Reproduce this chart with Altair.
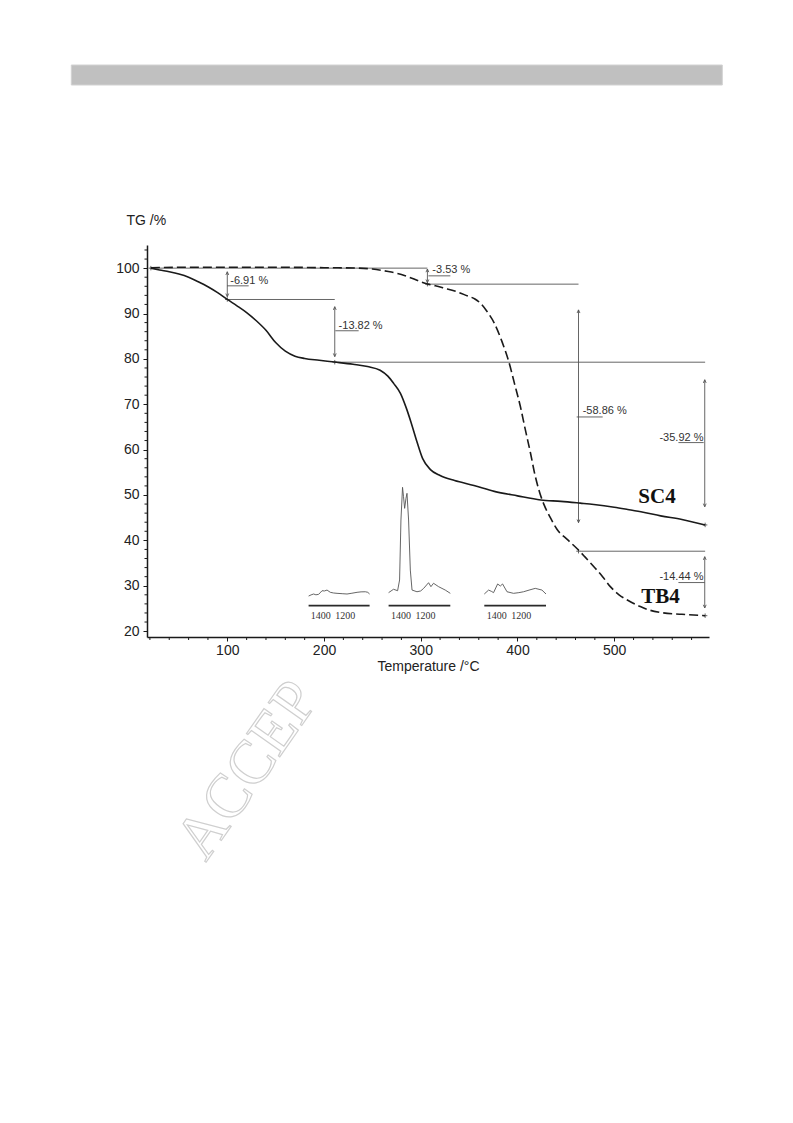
import altair as alt
import pandas as pd

# ---------------- data ----------------
SC4_T = [21, 30, 40, 50, 60, 70, 80, 90, 100, 110, 120, 130, 140, 150, 160, 170, 180, 195,
         211, 230, 245, 258, 266, 272, 279, 285, 290, 296, 302, 310, 320, 335, 355, 376, 400,
         424, 445, 465, 479, 500, 514, 530, 548, 570, 594]
SC4_TG = [100, 99.6, 99.2, 98.7, 98.0, 97.0, 95.9, 94.6, 93.1, 91.7, 90.2, 88.4, 86.3, 83.6,
          81.7, 80.6, 80.1, 79.7, 79.3, 78.8, 78.3, 77.5, 76.2, 74.6, 72.4, 69.2, 66.0, 61.8,
          58.0, 55.6, 54.3, 53.2, 52.1, 50.8, 49.8, 48.9, 48.6, 48.2, 47.9, 47.3, 46.8, 46.2,
          45.4, 44.6, 43.4]

TB4_T = [21, 60, 100, 150, 200, 235, 250, 265, 280, 293, 300, 306.9, 315, 324, 336, 348, 356,
         362, 368, 376, 384, 391, 397, 403, 408, 413.5, 418, 423, 428, 434, 441, 452, 462, 470,
         479, 488, 496, 505, 514, 527, 537, 548, 570, 594]
TB4_TG = [100.1, 100.2, 100.2, 100.2, 100.1, 100.0, 99.8, 99.3, 98.6, 97.6, 97.0, 96.5, 96.1,
          95.6, 94.9, 93.9, 93.2, 92.2, 90.6, 87.9, 83.8, 79.4, 74.5, 69.5, 64.5, 59.2, 54.5,
          50.5, 47.6, 45.0, 42.4, 40.1, 38.1, 36.3, 34.2, 32.0, 29.8, 28.0, 26.8, 25.4, 24.6,
          24.1, 23.7, 23.4]

X_TICKS = [100, 200, 300, 400, 500]
Y_TICKS = [20, 30, 40, 50, 60, 70, 80, 90, 100]
X_MINOR = [t for t in range(20, 600, 20) if t % 100 != 0]
Y_MINOR = [v for v in range(20, 106, 2) if v % 10 != 0]

# step reference lines (start T, end T, level)
H_T1 = [21, 100, 211.1, 306.9, 465]
H_T2 = [306.9, 211.1, 594, 463.1, 594]
H_TG = [100, 93.09, 79.27, 96.47, 37.61]

# double arrows (T, top, bottom)
A_T = [100, 211.1, 306.9, 463.1, 593.6, 593.6]
A_TOP = [99.2, 91.5, 99.8, 90.8, 75.4, 36.4]
A_BOT = [93.7, 80.5, 96.8, 43.9, 47.4, 25.1]

# step labels
L_TEXT = ["-6.91 %", "-13.82 %", "-3.53 %", "-58.86 %", "-35.92 %", "-14.44 %"]
L_T = [103.1, 215.1, 312.0, 467.4, 592.3, 592.3]
L_TG = [96.6, 86.5, 98.9, 67.9, 61.9, 31.3]
L_ALIGN = ["left", "left", "left", "left", "right", "right"]
U_T1 = [99.8, 211.7, 307.9, 461.2, 566.4, 566.4]
U_T2 = [122.1, 235.8, 330.6, 488.1, 592.5, 593.6]
U_TG = [96.1, 86.2, 98.3, 67.2, 61.55, 30.7]

# cross markers
P_T = [21, 100, 211.1, 306.9, 463.1, 594, 594]
P_TG = [100, 93.09, 79.27, 96.47, 37.61, 43.4, 23.4]

NAMES = ["SC4", "TB4"]
N_T = [544.2, 547.8]
N_TG = [48.3, 26.25]

# inset IR spectra (wavenumber /cm-1, relative absorbance)
SPEC_DOMAIN = [1500, 1000]
SPEC_TICKS = [1400, 1200]
S1_WN = [1500, 1480, 1459, 1440, 1418, 1400, 1390, 1370, 1349, 1322, 1295, 1267, 1225, 1185,
         1145, 1103, 1070, 1035, 1015, 1000]
S1_A = [0.035, 0.045, 0.053, 0.046, 0.050, 0.070, 0.082, 0.080, 0.088, 0.068, 0.062, 0.059,
        0.056, 0.053, 0.060, 0.068, 0.072, 0.073, 0.068, 0.053]
S2_WN = [1500, 1480, 1460, 1427, 1411, 1400, 1387, 1379, 1370, 1359, 1351, 1338, 1324, 1310,
         1270, 1240, 1216, 1176, 1157, 1136, 1095, 1041, 1000]
S2_A = [0.065, 0.080, 0.095, 0.082, 0.177, 0.708, 0.997, 0.914, 0.811, 0.900, 0.944, 0.708,
        0.265, 0.088, 0.073, 0.080, 0.103, 0.153, 0.118, 0.148, 0.118, 0.088, 0.059]
S3_WN = [1500, 1465, 1440, 1425, 1392, 1370, 1352, 1316, 1263, 1220, 1182, 1130, 1087, 1033,
         1000]
S3_A = [0.053, 0.088, 0.075, 0.065, 0.142, 0.124, 0.142, 0.073, 0.059, 0.065, 0.073, 0.090,
        0.103, 0.088, 0.053]

# ---------------- chart ----------------
W, H = 562, 392
INK = "#1a1a1a"
ANN = "#555555"
xs = alt.Scale(domain=[17, 598], nice=False, zero=False)
ys = alt.Scale(domain=[18.7, 105.1], nice=False, zero=False)

UP = "M-0.45,1L0,0L0.45,1"
DOWN = "M-0.45,-1L0,0L0.45,-1"
CROSS = "M-1,0L1,0M0,-1L0,1"

one = pd.DataFrame({"k": [0]})

bar = alt.Chart(one).mark_rect(color="#c0c0c0", stroke="#d2d2d2", strokeWidth=1).encode(
    x=alt.value(-75.7), x2=alt.value(575.3), y=alt.value(-180), y2=alt.value(-160))

watermark = alt.Chart(one).mark_text(
    text="ACCEP", font="Liberation Serif", fontSize=62, angle=305, fill="#ffffff",
    stroke="#cfcfcf", strokeWidth=1.2, align="center", baseline="middle").encode(
    x=alt.value(100.5), y=alt.value(525))

sc4 = alt.Chart(pd.DataFrame({"T": SC4_T, "TG": SC4_TG})).mark_line(
    color=INK, strokeWidth=1.6, interpolate="monotone").encode(
    x=alt.X("T:Q", scale=xs, axis=alt.Axis(values=X_TICKS, title="Temperature /°C",
                                            labelPadding=2, titlePadding=2)),
    y=alt.Y("TG:Q", scale=ys, axis=alt.Axis(values=Y_TICKS, title="TG /%", titleAngle=0,
                                             titleAlign="left", titleBaseline="middle",
                                             titleX=-21, titleY=-25, labelPadding=4)))

tb4 = alt.Chart(pd.DataFrame({"T": TB4_T, "TG": TB4_TG})).mark_line(
    color=INK, strokeWidth=1.6, strokeDash=[9, 4], interpolate="monotone").encode(
    x="T:Q", y="TG:Q")

xminor = alt.Chart(pd.DataFrame({"T": X_MINOR})).mark_rule(color=INK, strokeWidth=1).encode(
    x="T:Q", y=alt.value(H), y2=alt.value(H + 3))
yminor = alt.Chart(pd.DataFrame({"TG": Y_MINOR})).mark_rule(color=INK, strokeWidth=1).encode(
    y="TG:Q", x=alt.value(-2.5), x2=alt.value(0))

hlines = alt.Chart(pd.DataFrame({"T": H_T1, "T2": H_T2, "TG": H_TG})).mark_rule(
    color=ANN, strokeWidth=0.9).encode(x="T:Q", x2="T2:Q", y="TG:Q")

adf = pd.DataFrame({"T": A_T, "TG": A_TOP, "TG2": A_BOT})
arrows = alt.Chart(adf).mark_rule(color=ANN, strokeWidth=0.9).encode(
    x="T:Q", y="TG:Q", y2="TG2:Q")
heads_up = alt.Chart(adf).mark_point(shape=UP, filled=False, size=40, color=ANN,
                                     strokeWidth=0.9, opacity=1).encode(x="T:Q", y="TG:Q")
heads_dn = alt.Chart(adf).mark_point(shape=DOWN, filled=False, size=40, color=ANN,
                                     strokeWidth=0.9, opacity=1).encode(x="T:Q", y="TG2:Q")

ldf = pd.DataFrame({"label": L_TEXT, "T": L_T, "TG": L_TG, "align": L_ALIGN})
lab_font = "Liberation Sans Narrow, Arial Narrow, Liberation Sans, Arial"
labels_l = alt.Chart(ldf).transform_filter("datum.align == 'left'").mark_text(
    align="left", baseline="alphabetic", font=lab_font, fontSize=11, color="#333").encode(
    x="T:Q", y="TG:Q", text="label:N")
labels_r = alt.Chart(ldf).transform_filter("datum.align == 'right'").mark_text(
    align="right", baseline="alphabetic", font=lab_font, fontSize=11, color="#333").encode(
    x="T:Q", y="TG:Q", text="label:N")
ulines = alt.Chart(pd.DataFrame({"T": U_T1, "T2": U_T2, "TG": U_TG})).mark_rule(
    color=ANN, strokeWidth=0.9).encode(x="T:Q", x2="T2:Q", y="TG:Q")

crosses = alt.Chart(pd.DataFrame({"T": P_T, "TG": P_TG})).mark_point(
    shape=CROSS, filled=False, size=20, color=ANN, strokeWidth=0.9, opacity=1).encode(
    x="T:Q", y="TG:Q")

names = alt.Chart(pd.DataFrame({"name": NAMES, "T": N_T, "TG": N_TG})).mark_text(
    font="Liberation Serif", fontWeight="bold", fontSize=21, color="#111",
    align="center", baseline="alphabetic").encode(x="T:Q", y="TG:Q", text="name:N")

main = alt.layer(bar, watermark, xminor, yminor, hlines, arrows, heads_up, heads_dn,
                 ulines, labels_l, labels_r, crosses, sc4, tb4, names)


def spectrum(wn, a, rng):
    sx = alt.Scale(domain=SPEC_DOMAIN, range=rng, nice=False, zero=False)
    sy = alt.Scale(domain=[0, 1], range=[355, 242], nice=False, zero=False)
    line = alt.Chart(pd.DataFrame({"wn": wn, "a": a})).mark_line(
        color="#555", strokeWidth=0.9).encode(
        x=alt.X("wn:Q", scale=sx, axis=None), y=alt.Y("a:Q", scale=sy, axis=None))
    base = alt.Chart(pd.DataFrame({"wn": [SPEC_DOMAIN[0]], "wn2": [SPEC_DOMAIN[1]]})).mark_rule(
        color="#2a2a2a", strokeWidth=1.8).encode(
        x=alt.X("wn:Q", axis=None), x2="wn2:Q", y=alt.value(360.7))
    ticks = alt.Chart(pd.DataFrame({"wn": SPEC_TICKS})).mark_text(
        font="Liberation Serif", fontSize=10, color="#333", baseline="middle").encode(
        x=alt.X("wn:Q", axis=None), y=alt.value(371), text=alt.Text("wn:Q", format="d"))
    return alt.layer(line, base, ticks)


sp1 = spectrum(S1_WN, S1_A, [161.6, 222.6])
sp2 = spectrum(S2_WN, S2_A, [241.6, 303.3])
sp3 = spectrum(S3_WN, S3_A, [337.3, 399.0])

chart = alt.layer(main, sp1, sp2, sp3).resolve_scale(
    x="independent", y="independent"
).properties(
    width=W, height=H,
    padding={"left": 139, "top": 237, "right": 50, "bottom": 490},
    autosize=alt.AutoSizeParams(type="none"),
).configure_view(stroke=None).configure_axis(
    grid=False, domainColor=INK, domainWidth=1.5, tickColor=INK, tickWidth=1, tickSize=4,
    labelFont="Liberation Sans", labelFontSize=14, labelColor="#222",
    titleFont="Liberation Sans", titleFontSize=14, titleFontWeight="normal", titleColor="#222"
)

chart.save("out.html", embed_options={"renderer": "svg", "actions": False})
